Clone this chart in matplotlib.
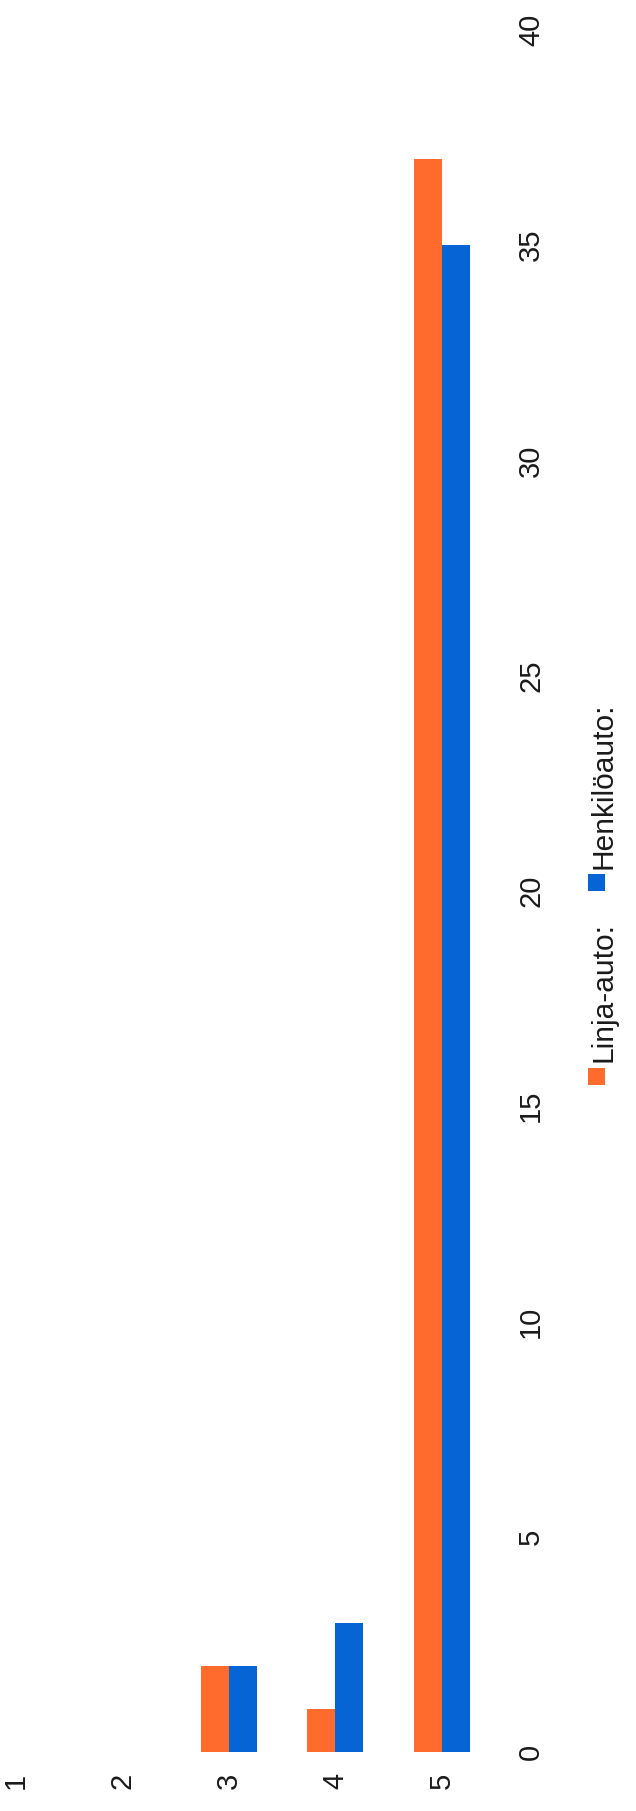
import numpy as np
import matplotlib
matplotlib.use('Agg')
from matplotlib import pyplot as plt
from matplotlib.patches import Rectangle

# chart data (the picture is a bar chart turned 90 degrees)
categories = ['1', '2', '3', '4', '5']
linja_auto = [0, 0, 2, 1, 37]
henkiloauto = [0, 0, 2, 3, 35]
value_ticks = [0, 5, 10, 15, 20, 25, 30, 35, 40]
series_names = ['Linja-auto:', 'Henkilöauto:']
series_colors = ['#FF6B2C', '#0664D4']

plt.rcParams['font.family'] = ['Liberation Sans', 'DejaVu Sans']
text_color = '#1a1a1a'

W, H = 636, 1811
fig = plt.figure(figsize=(W / 100, H / 100), dpi=100)
fig.patch.set_facecolor('white')

# axes placed in pixel terms
left_px, right_px = 0, 495
top_px, bottom_px = 30, 1752
ax = fig.add_axes([left_px / W, 1 - bottom_px / H,
                   (right_px - left_px) / W, (bottom_px - top_px) / H])

x = np.arange(1, len(categories) + 1)
w = 0.263
ax.bar(x - w / 2, linja_auto, w, color=series_colors[0], linewidth=0)
ax.bar(x + w / 2, henkiloauto, w, color=series_colors[1], linewidth=0)

ax.set_xlim(0.85, 5.5)
ax.set_ylim(0, 40)

ax.set_xticks(x)
ax.set_xticklabels(categories, rotation=90, fontsize=21, color=text_color)
ax.set_yticks(value_ticks)
ax.set_yticklabels([str(v) for v in value_ticks], rotation=90, fontsize=21,
                   color=text_color)
ax.yaxis.tick_right()
plt.setp(ax.get_yticklabels(), va='center', ha='left')
plt.setp(ax.get_xticklabels(), va='top', ha='center')
ax.tick_params(axis='x', length=0, pad=15)
ax.tick_params(axis='y', length=0, pad=16)

for s in ax.spines.values():
    s.set_visible(False)

# legend, drawn by hand because it is turned too
legend_items = [
    (series_names[0], series_colors[0], 1076, 1062),
    (series_names[1], series_colors[1], 882, 869),
]
for name, col, sq_y, txt_y in legend_items:
    sq = 17
    fig.add_artist(Rectangle(((596 - sq / 2) / W, 1 - (sq_y + sq / 2) / H),
                             sq / W, sq / H, transform=fig.transFigure,
                             facecolor=col, edgecolor='none'))
    fig.text(603 / W, 1 - txt_y / H, name, rotation=90, ha='center',
             va='bottom', fontsize=21.5, color=text_color)

fig.savefig('out.png', dpi=100, facecolor='white')
